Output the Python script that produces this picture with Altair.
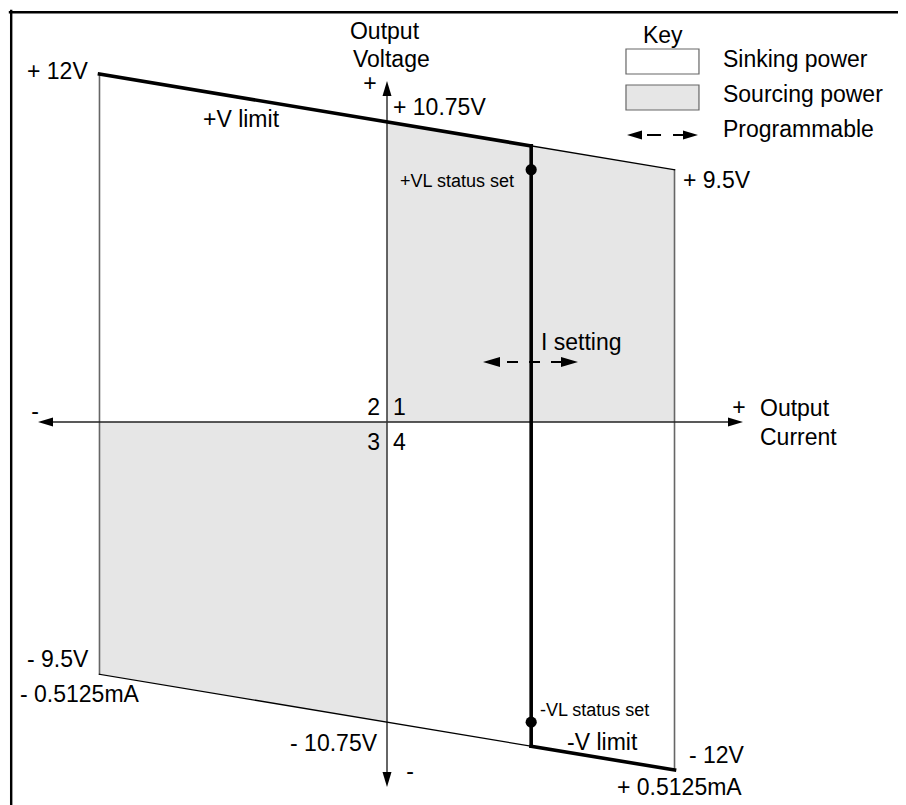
import altair as alt
import pandas as pd

# ---------------- schematic values (current in mA, voltage in schematic V) ----------------
I_LIMITS = [-0.5125, 0.5125]          # current limits
I_SET = 0.257                          # programmable current setting
TOP_I = [-0.5125, 0.0, 0.5125]         # +V limit line
TOP_V = [12.0, 10.35, 8.7]
BOT_I = [-0.5125, 0.0, 0.5125]         # -V limit line
BOT_V = [-8.7, -10.35, -12.0]
V_SET_TOP, V_SET_BOT = 9.52, -11.18    # where I setting meets the limit lines
DOT_V = [8.7, -10.35]                  # status-set markers

# sourcing quadrants (1 and 3)
area_I = [0.0, 0.5125, -0.5125, 0.0]
area_top = [10.35, 8.7, 0.0, 0.0]
area_bot = [0.0, 0.0, -8.7, -10.35]
area_grp = ["q1", "q1", "q3", "q3"]

# labels
lab_text = ["+ 12V", "Output", "Voltage", "+ 10.75V", "+V limit", "Key",
            "Sinking power", "Sourcing power", "Programmable", "+ 9.5V",
            "1", "4", "I setting", "Output", "Current", "- 9.5V",
            "- 0.5125mA", "-V limit", "- 12V", "+ 0.5125mA",
            "2", "3", "- 10.75V",
            "+", "-", "+", "-",
            "+VL status set", "-VL status set"]
lab_x = [-0.6417, -0.0660, -0.0606, 0.0107, -0.3280, 0.4563,
         0.5989, 0.5989, 0.5989, 0.5276,
         0.0107, 0.0107, 0.2745, 0.6649, 0.6649, -0.6417,
         -0.6542, 0.3209, 0.5383, 0.4100,
         -0.0125, -0.0125, -0.0178,
         -0.0303, -0.6275, 0.6275, 0.0410,
         0.0232, 0.2727]
lab_y = [11.828, 13.207, 12.241, 10.586, 10.172, 13.069,
         12.241, 11.034, 9.828, 8.069,
         0.241, -0.966, 2.483, 0.207, -0.793, -8.448,
         -9.655, -11.310, -11.759, -12.870,
         0.241, -0.966, -11.345,
         11.414, 0.103, 0.241, -12.310,
         8.103, -10.138]
lab_align = (["left"] * 20) + (["right"] * 3) + (["center"] * 4) + (["left"] * 2)
lab_size = ([23] * 27) + ([18] * 2)

# ---------------- layout (domain chosen so the drawing fills the page) ----------------
W, H = 890, 797
X_DOMAIN = [-0.675579, 0.910873]
Y_DOMAIN = [-13.206897, 14.275862]
FONT = "Liberation Sans, Arial, Helvetica, sans-serif"

xs = alt.Scale(domain=X_DOMAIN, nice=False, zero=False)
ys = alt.Scale(domain=Y_DOMAIN, nice=False, zero=False)

def X(f="x"):
    return alt.X(f"{f}:Q", scale=xs, axis=None)

def Y(f="y"):
    return alt.Y(f"{f}:Q", scale=ys, axis=None)

# areas
area_df = pd.DataFrame({"x": area_I, "y": area_top, "y2": area_bot, "g": area_grp})
areas = alt.Chart(area_df).mark_area(color="#e6e6e6", interpolate="linear").encode(
    x=X(), y=Y(), y2="y2:Q", detail="g:N")

# legend boxes
box_df = pd.DataFrame({"x": [0.4260, 0.4260], "x2": [0.5561, 0.5561],
                       "y": [12.862, 11.621], "y2": [12.0, 10.759],
                       "fill": ["#ffffff", "#e6e6e6"]})
boxes = alt.Chart(box_df).mark_rect(stroke="#666666", strokeWidth=1.2).encode(
    x=X(), x2="x2:Q", y=Y(), y2="y2:Q", fill=alt.Fill("fill:N", scale=None))

# line segments
seg_rows = [
    # frame
    (-0.6699, 14.17, -0.6699, Y_DOMAIN[0], "#000000", 2.4),
    (-0.6720, 14.131, X_DOMAIN[1], 14.131, "#000000", 2.4),
    # outline verticals
    (I_LIMITS[0], TOP_V[0], I_LIMITS[0], BOT_V[0], "#666666", 1.6),
    (I_LIMITS[1], TOP_V[2], I_LIMITS[1], BOT_V[2], "#666666", 1.6),
    # axes
    (-0.6000, 0.0, 0.6100, 0.0, "#222222", 1.5),
    (0.0, 11.40, 0.0, -12.20, "#333333", 1.5),
    # limit lines (thin)
    (TOP_I[0], TOP_V[0], TOP_I[2], TOP_V[2], "#000000", 1.3),
    (BOT_I[0], BOT_V[0], BOT_I[2], BOT_V[2], "#000000", 1.3),
    # active (thick) parts
    (TOP_I[0], TOP_V[0], I_SET, V_SET_TOP, "#000000", 3.6),
    (I_SET, V_SET_BOT, BOT_I[2], BOT_V[2], "#000000", 3.6),
    (I_SET, V_SET_TOP, I_SET, V_SET_BOT, "#000000", 3.6),
]
seg_df = pd.DataFrame(seg_rows, columns=["x", "y", "x2", "y2", "c", "w"])
segs = alt.Chart(seg_df).mark_rule(strokeCap="square").encode(
    x=X(), y=Y(), x2="x2:Q", y2="y2:Q",
    color=alt.Color("c:N", scale=None),
    strokeWidth=alt.StrokeWidth("w:Q", scale=None))

# dashed "programmable" shafts
dash1 = alt.Chart(pd.DataFrame({"x": [0.2139], "x2": [0.3119], "y": [2.069]})).mark_rule(
    color="#000000", strokeWidth=2, strokeDash=[11, 11]).encode(x=X(), x2="x2:Q", y=Y())
dash2 = alt.Chart(pd.DataFrame({"x": [0.4635], "x2": [0.5276], "y": [9.897]})).mark_rule(
    color="#000000", strokeWidth=2, strokeDash=[14, 12]).encode(x=X(), x2="x2:Q", y=Y())

# arrow heads (tip at the symbol origin)
RIGHT = "M0,0L-1,-0.3L-1,0.3Z"
LEFT = "M0,0L1,-0.3L1,0.3Z"
UP = "M0,0L-0.3,1L0.3,1Z"
DOWN = "M0,0L-0.3,-1L0.3,-1Z"
head_df = pd.DataFrame({
    "x": [-0.6221, 0.6346, 0.0, 0.0, 0.1711, 0.3405, 0.4278, 0.5544],
    "y": [0.0, 0.0, 11.759, -12.586, 2.069, 2.069, 9.897, 9.897],
    "shape": [LEFT, RIGHT, UP, DOWN, LEFT, RIGHT, LEFT, RIGHT],
    "size": [900, 900, 900, 900, 1156, 1156, 900, 900],
})
heads = alt.Chart(head_df).mark_point(filled=True, opacity=1, color="#000000", strokeWidth=0).encode(
    x=X(), y=Y(), shape=alt.Shape("shape:N", scale=None), size=alt.Size("size:Q", scale=None))

# dots
dots = alt.Chart(pd.DataFrame({"x": [I_SET, I_SET], "y": DOT_V})).mark_circle(
    size=125, color="#000000", opacity=1).encode(x=X(), y=Y())

# labels
lab_df = pd.DataFrame({"t": lab_text, "x": lab_x, "y": lab_y, "a": lab_align, "s": lab_size})
text_layers = []
for al in ["left", "right", "center"]:
    text_layers.append(
        alt.Chart(lab_df).transform_filter(alt.datum.a == al).mark_text(
            align=al, baseline="alphabetic", font=FONT, color="#000000").encode(
            x=X(), y=Y(), text="t:N", size=alt.Size("s:Q", scale=None)))

chart = alt.layer(areas, boxes, segs, dash1, dash2, heads, dots, *text_layers).properties(
    width=W, height=H, padding=0, autosize="none", background="#ffffff"
).configure_view(stroke=None)

chart.save("out.html", embed_options={"renderer": "svg", "actions": False})
